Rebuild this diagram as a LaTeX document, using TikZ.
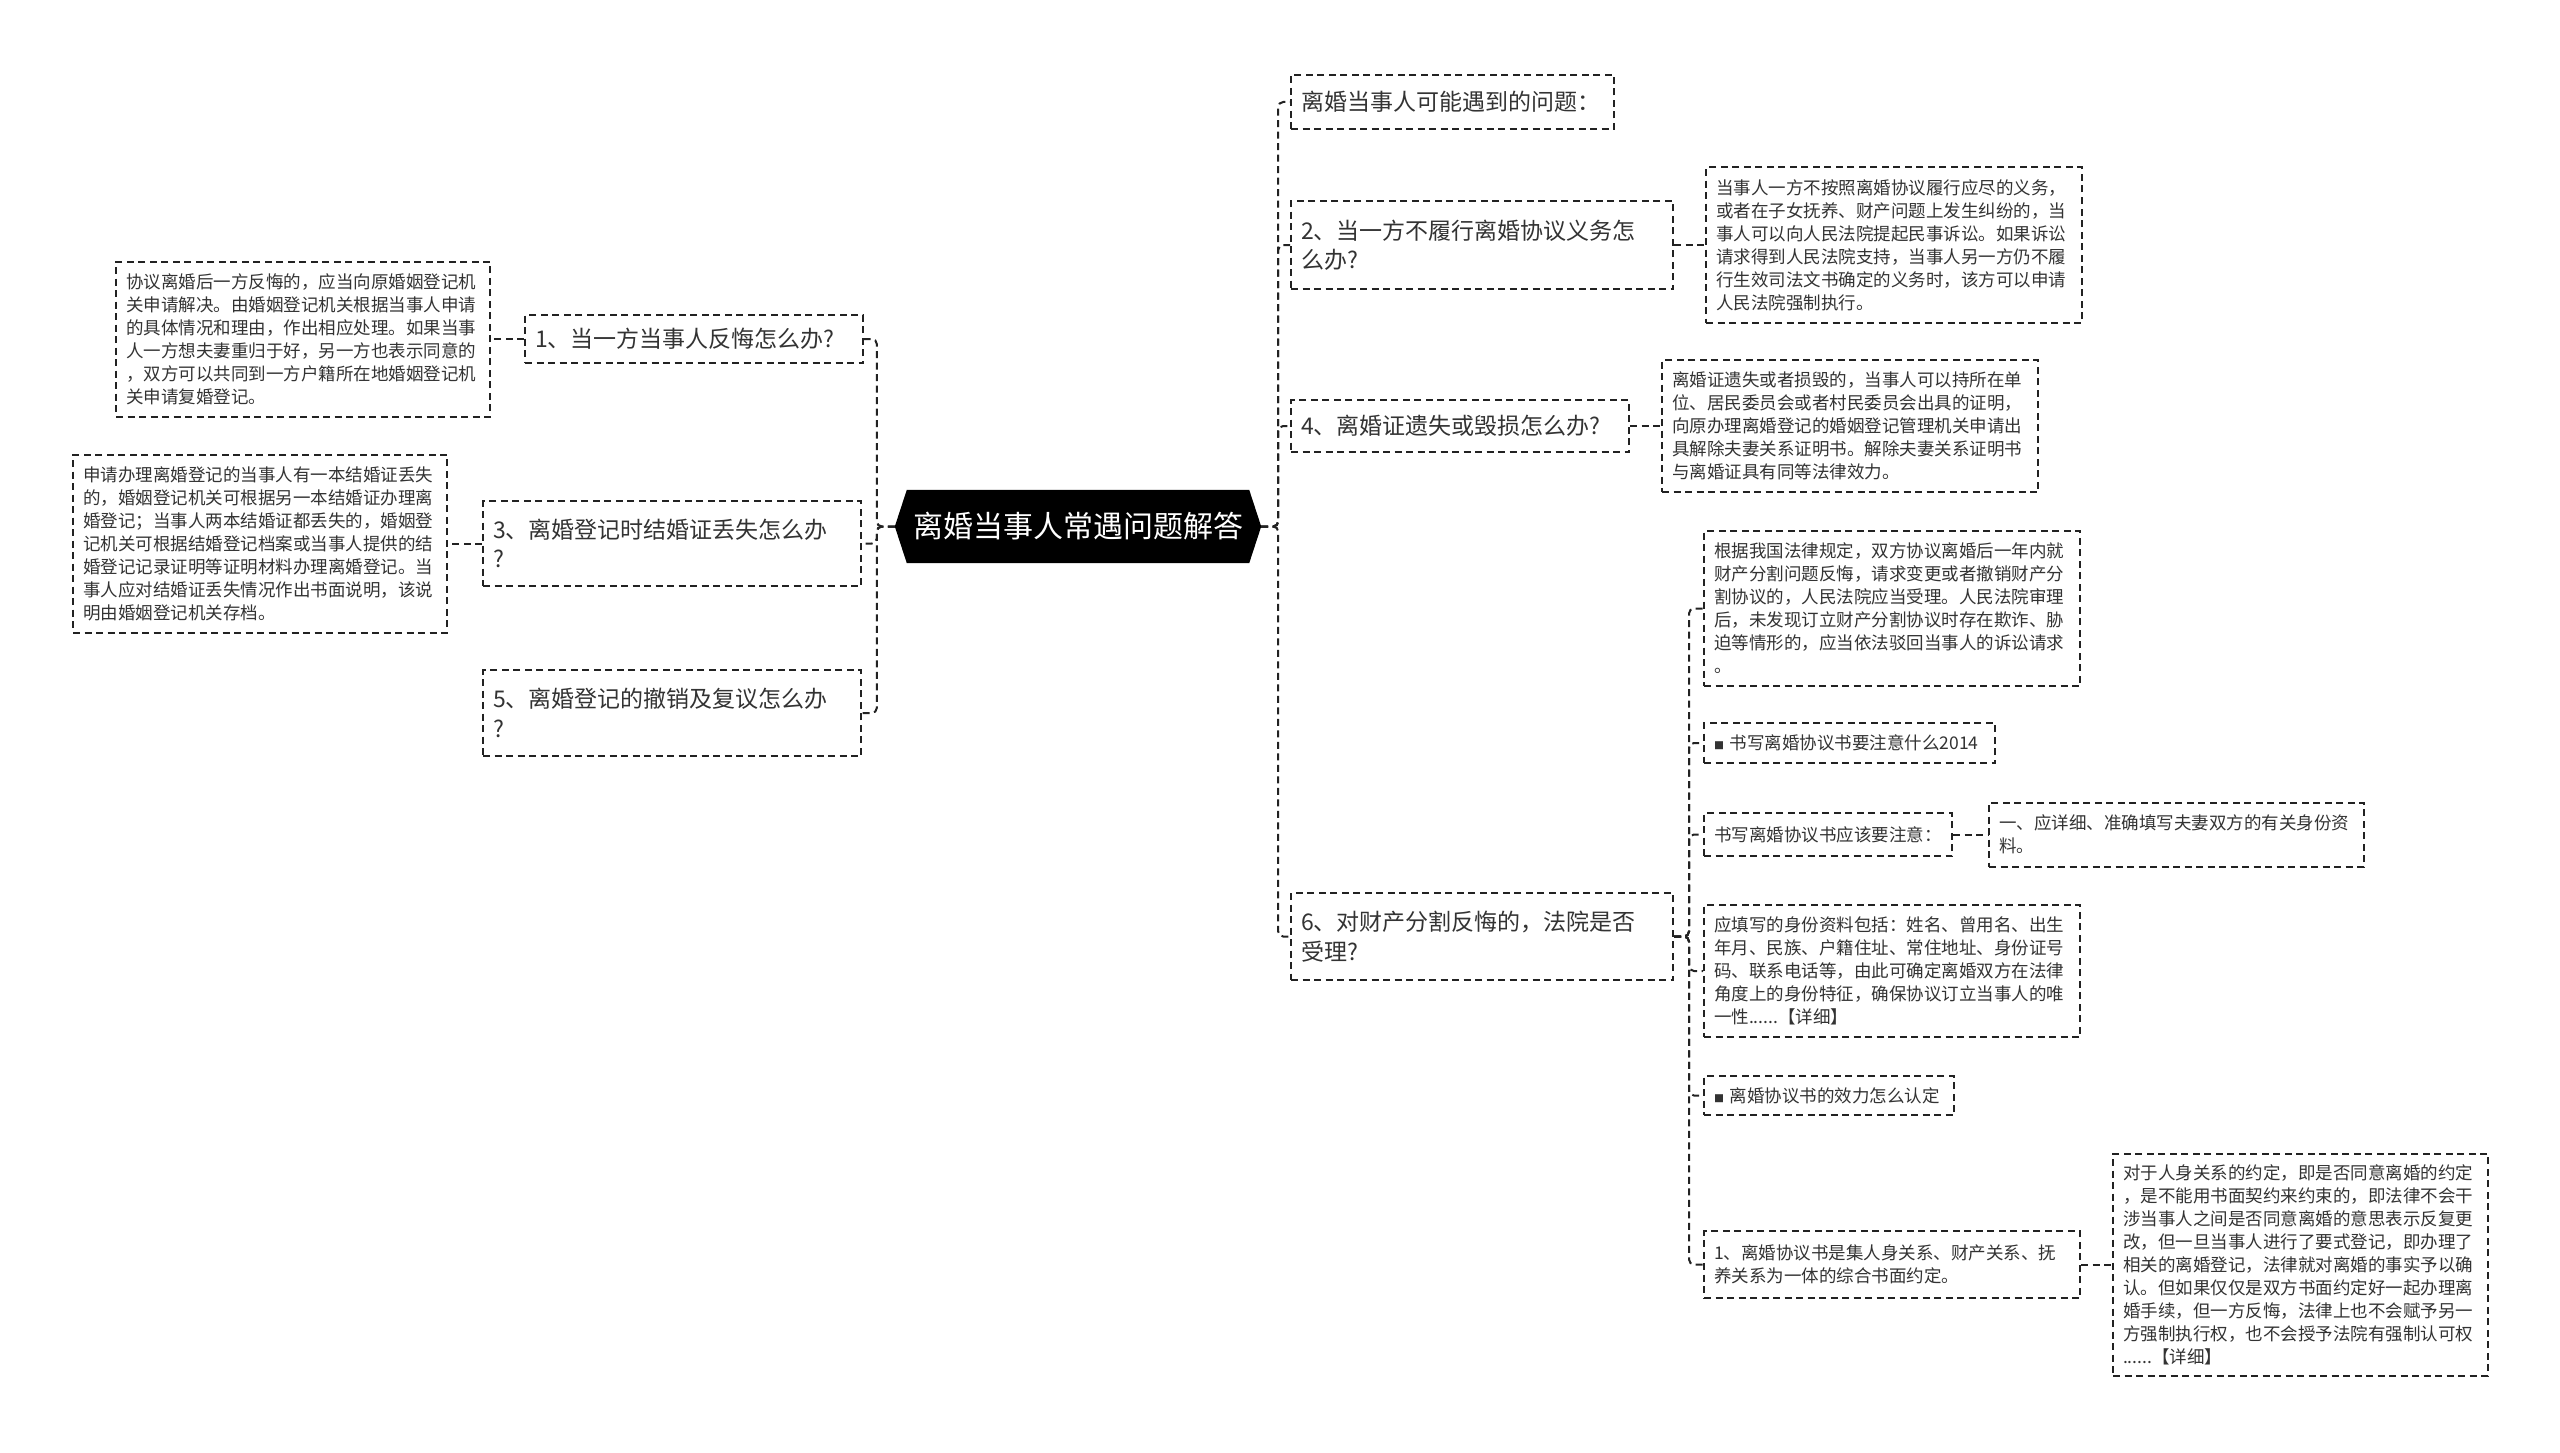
\documentclass[tikz,border=0pt]{standalone}
\usepackage{fontspec}
\newfontfamily\cjk{Noto Sans CJK SC}
\usepackage{tikz}
\usetikzlibrary{positioning, backgrounds}
\definecolor{inkgray}{HTML}{333333}
\definecolor{dashgray}{HTML}{222222}
\newcommand{\bigtxt}{\fontsize{23}{29.5}\selectfont}
\newcommand{\smalltxt}{\fontsize{17.5}{23}\selectfont}
\newcommand{\sqmark}{{\fontsize{10}{10}\selectfont ■}}

\begin{document}
\begin{tikzpicture}[x=1pt,y=-1pt,
	every node/.style={font=\cjk, text=inkgray},
	root node/.style={font=\cjk\fontsize{30}{36}\selectfont, text=white, inner sep=0pt,
		minimum width=366, minimum height=73},
	main node/.style={draw=dashgray, line width=2, dash pattern=on 7pt off 4.5pt, fill=white,
		align=left, inner xsep=10, inner ysep=5, font=\cjk\bigtxt},
	leaf node/.style={main node, font=\cjk\smalltxt},
	link/.style={draw=dashgray, line width=2, dash pattern=on 7pt off 4.5pt, rounded corners=5pt}]
	
	\useasboundingbox (0,0) rectangle (2560,1453);
	
	\node[root node] (root) at (1078,526.5) {离婚当事人常遇问题解答};
	\begin{scope}[on background layer]
		\fill[black] (root.west) -- ([xshift=12pt]root.north west) -- ([xshift=-12pt]root.north east)
		-- (root.east) -- ([xshift=-12pt]root.south east) -- ([xshift=12pt]root.south west) -- cycle;
	\end{scope}
	
	% right side
	\node[main node, anchor=west, text width=303, minimum height=54] (r0) at (1290,102) {离婚当事人可能遇到的问题：};
	\node[main node, anchor=west, text width=362, minimum height=88] (q2) at (1290,245) {2、当一方不履行离婚协议义务怎\\么办?};
	\node[main node, anchor=west, text width=318, minimum height=52] (q4) at (1290,426) {4、离婚证遗失或毁损怎么办?};
	\node[main node, anchor=west, text width=362, minimum height=87] (q6) at (1290,936.5) {6、对财产分割反悔的，法院是否\\受理?};
	
	\node[leaf node, text width=356, minimum height=155] (d2) [right=31pt of q2] {当事人一方不按照离婚协议履行应尽的义务，\\或者在子女抚养、财产问题上发生纠纷的，当\\事人可以向人民法院提起民事诉讼。如果诉讼\\请求得到人民法院支持，当事人另一方仍不履\\行生效司法文书确定的义务时，该方可以申请\\人民法院强制执行。};
	\node[leaf node, text width=356, minimum height=132] (d4) [right=31pt of q4] {离婚证遗失或者损毁的，当事人可以持所在单\\位、居民委员会或者村民委员会出具的证明，\\向原办理离婚登记的婚姻登记管理机关申请出\\具解除夫妻关系证明书。解除夫妻关系证明书\\与离婚证具有同等法律效力。};
	
	% children of 6
	\node[leaf node, anchor=west, text width=356, minimum height=155] (s1) at (1703,608.5) {根据我国法律规定，双方协议离婚后一年内就\\财产分割问题反悔，请求变更或者撤销财产分\\割协议的，人民法院应当受理。人民法院审理\\后，未发现订立财产分割协议时存在欺诈、胁\\迫等情形的，应当依法驳回当事人的诉讼请求\\。};
	\node[leaf node, anchor=west, text width=271, minimum height=40] (s2) at (1703,743) {\sqmark\ 书写离婚协议书要注意什么2014};
	\node[leaf node, anchor=west, text width=228, minimum height=43] (s3) at (1703,834.5) {书写离婚协议书应该要注意：};
	\node[leaf node, text width=355, minimum height=64] (s3d) [right=35pt of s3] {一、应详细、准确填写夫妻双方的有关身份资\\料。};
	\node[leaf node, anchor=west, text width=356, minimum height=132] (s4) at (1703,971) {应填写的身份资料包括：姓名、曾用名、出生\\年月、民族、户籍住址、常住地址、身份证号\\码、联系电话等，由此可确定离婚双方在法律\\角度上的身份特征，确保协议订立当事人的唯\\一性......【详细】};
	\node[leaf node, anchor=west, text width=230, minimum height=39] (s5) at (1703,1095.5) {\sqmark\ 离婚协议书的效力怎么认定};
	\node[leaf node, anchor=west, text width=356, minimum height=67] (s6) at (1703,1264.5) {1、离婚协议书是集人身关系、财产关系、抚\\养关系为一体的综合书面约定。};
	\node[leaf node, text width=355, minimum height=222] (s6d) [right=31pt of s6] {对于人身关系的约定，即是否同意离婚的约定\\，是不能用书面契约来约束的，即法律不会干\\涉当事人之间是否同意离婚的意思表示反复更\\改，但一旦当事人进行了要式登记，即办理了\\相关的离婚登记，法律就对离婚的事实予以确\\认。但如果仅仅是双方书面约定好一起办理离\\婚手续，但一方反悔，法律上也不会赋予另一\\方强制执行权，也不会授予法院有强制认可权\\......【详细】};
	
	% left side
	\node[main node, anchor=east, text width=318, minimum height=48] (l1) at (864,339) {1、当一方当事人反悔怎么办?};
	\node[main node, anchor=east, text width=358, minimum height=85] (l3) at (862,543.5) {3、离婚登记时结婚证丢失怎么办\\?};
	\node[main node, anchor=east, text width=358, minimum height=86] (l5) at (862,713) {5、离婚登记的撤销及复议怎么办\\?};
	
	\node[leaf node, text width=354, minimum height=155] (l1d) [left=33pt of l1] {协议离婚后一方反悔的，应当向原婚姻登记机\\关申请解决。由婚姻登记机关根据当事人申请\\的具体情况和理由，作出相应处理。如果当事\\人一方想夫妻重归于好，另一方也表示同意的\\，双方可以共同到一方户籍所在地婚姻登记机\\关申请复婚登记。};
	\node[leaf node, text width=354, minimum height=178] (l3d) [left=34pt of l3] {申请办理离婚登记的当事人有一本结婚证丢失\\的，婚姻登记机关可根据另一本结婚证办理离\\婚登记；当事人两本结婚证都丢失的，婚姻登\\记机关可根据结婚登记档案或当事人提供的结\\婚登记记录证明等证明材料办理离婚登记。当\\事人应对结婚证丢失情况作出书面说明，该说\\明由婚姻登记机关存档。};
	
	% connectors
	\foreach \n in {r0,q2,q4,q6}
		\draw[link] (root.east) -- ++(17,0) |- (\n.west);
	\foreach \n in {l1,l3,l5}
		\draw[link] (root.west) -- ++(-18,0) |- (\n.east);
	\foreach \n in {s1,s2,s3,s4,s5,s6}
		\draw[link] (q6.east) -- ++(15,0) |- (\n.west);
	\draw[link] (q2.east) -- (d2.west);
	\draw[link] (q4.east) -- (d4.west);
	\draw[link] (s3.east) -- (s3d.west);
	\draw[link] (s6.east) -- (s6d.west);
	\draw[link] (l1.west) -- (l1d.east);
	\draw[link] (l3.west) -- (l3d.east);
\end{tikzpicture}
\end{document}
